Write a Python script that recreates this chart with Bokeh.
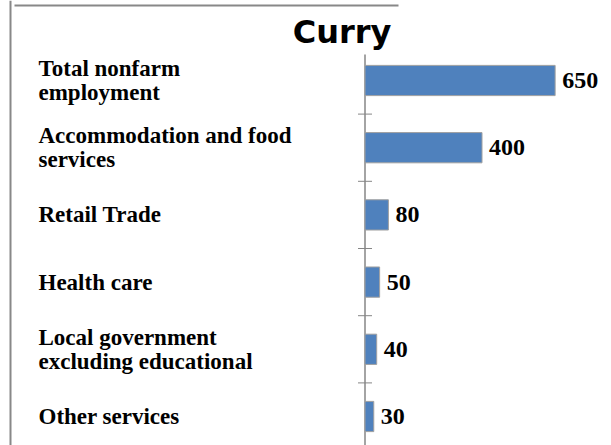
from bokeh.plotting import figure
from bokeh.models import Range1d, LabelSet, ColumnDataSource, BoxAnnotation, Label
from bokeh.core.properties import value
from bokeh.embed import file_html
from bokeh.resources import INLINE

title_text = "Curry"
categories = [
    "Total nonfarm\nemployment",
    "Accommodation and food\nservices",
    "Retail Trade",
    "Health care",
    "Local government\nexcluding educational",
    "Other services",
]
values = [650, 400, 80, 50, 40, 30]
value_labels = [str(v) for v in values]

idx = list(range(len(categories)))
boundaries = [i + 0.5 for i in idx[:-1]]

W, H = 611, 445
AXIS_PX = 364.5          # screen x of the value axis
PX_PER_UNIT = 0.2925     # horizontal scale
ROW_PX = 67.2            # vertical spacing of categories
FIRST_ROW_PX = 80        # screen y of first category centre
AXIS_TOP_PX = 54         # where the axis line starts

x_start = -AXIS_PX / PX_PER_UNIT
x_end = (W - AXIS_PX) / PX_PER_UNIT
y_top = -FIRST_ROW_PX / ROW_PX
y_bottom = (H - FIRST_ROW_PX) / ROW_PX
axis_top = (AXIS_TOP_PX - FIRST_ROW_PX) / ROW_PX

src = ColumnDataSource(dict(y=idx, v=values, lab=value_labels, cat=categories))

p = figure(
    width=W, height=H,
    output_backend="svg", toolbar_location=None,
    x_range=Range1d(x_start, x_end), y_range=Range1d(y_bottom, y_top),
    x_axis_location=None, y_axis_location=None,
    min_border_left=0, min_border_right=0, min_border_top=0, min_border_bottom=0,
)
p.outline_line_color = None
p.xgrid.visible = False
p.ygrid.visible = False
p.background_fill_color = "white"
p.border_fill_color = "white"

# value axis (line + tick marks at category boundaries)
p.segment(x0=[0], y0=[axis_top], x1=[0], y1=[y_bottom],
          line_color="#868686", line_width=1.5)
p.scatter(x=[0] * len(boundaries), y=boundaries, marker="dash", size=14,
          line_color="#868686", line_width=1)

p.hbar(y="y", right="v", left=0, height=0.45, source=src,
       fill_color="#4F81BD", line_color="#A0A0A0", line_width=1)

p.text(x="v", y="y", text="lab", source=src, x_offset=7,
       text_baseline="middle", text_align="left",
       text_font=value("Liberation Serif"), text_font_style="bold",
       text_font_size="24px", text_color="#000000")

cat_labels = LabelSet(x=38, x_units="screen", y="y", text="cat", source=src,
                      text_baseline="middle", text_align="left",
                      text_font=value("Liberation Serif"), text_font_style="bold",
                      text_font_size="23px", text_color="#000000",
                      text_line_height=0.96)
p.add_layout(cat_labels)

left_line = BoxAnnotation(left=9, right=11,
                          left_units="screen", right_units="screen",
                          fill_color="#888888", fill_alpha=1, line_color=None)
top_line = BoxAnnotation(left=14, right=398, top=H - 4, bottom=H - 6,
                         left_units="screen", right_units="screen",
                         top_units="screen", bottom_units="screen",
                         fill_color="#888888", fill_alpha=1, line_color=None)
p.add_layout(left_line)
p.add_layout(top_line)

title = Label(x=341.5, y=H - 31, x_units="screen", y_units="screen",
              text=title_text, text_align="center", text_baseline="alphabetic",
              text_font="DejaVu Sans", text_font_style="bold",
              text_font_size="32px", text_color="#000000")
p.add_layout(title)

open("out.html", "w").write(file_html(p, INLINE))
